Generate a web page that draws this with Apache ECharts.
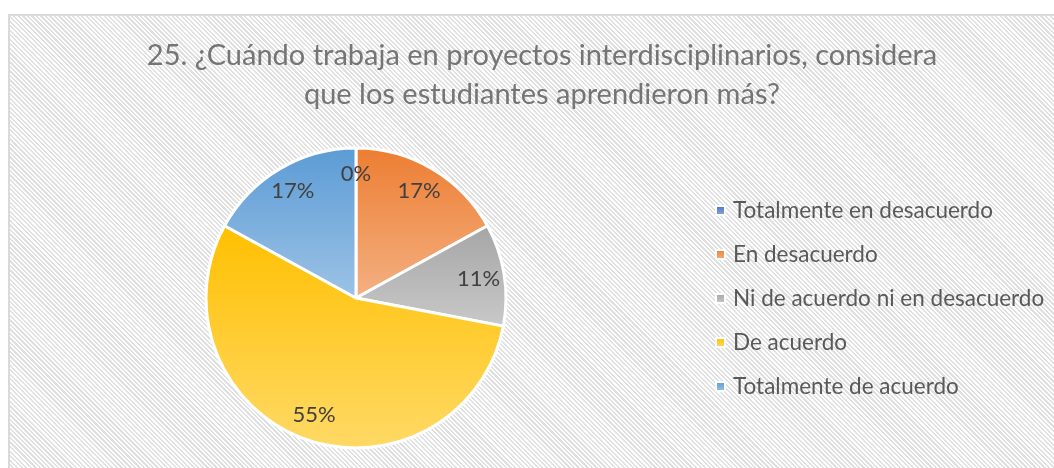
<!DOCTYPE html>
<html>
<head>
<meta charset="utf-8">
<script src="https://cdn.jsdelivr.net/npm/echarts@6/dist/echarts.min.js"></script>
<style>
    html, body { margin: 0; padding: 0; width: 1054px; height: 468px; overflow: hidden; background: #fff; }
    .frame {
        position: absolute; left: 8px; top: 14px; width: 1100px; height: 520px;
        border: 2px solid #d9d9d9;
        background: repeating-linear-gradient(45deg, #ffffff 0px, #ffffff 1.6px, #e0e0e0 1.6px, #e0e0e0 3.2px);
    }
    #chart { position: absolute; left: 10px; top: 16px; width: 1064px; height: 452px; }
</style>
</head>
<body>
<div class="frame"></div>
<div id="chart"></div>
<script>
    // categorias y porcentajes
    var categorias = ['Totalmente en desacuerdo', 'En desacuerdo', 'Ni de acuerdo ni en desacuerdo', 'De acuerdo', 'Totalmente de acuerdo'];
    var porcentajes = [0, 17, 11, 55, 17];
    // colores: [arriba, abajo] del degradado de cada sector
    var colores = [
        ['#4472C4', '#8FAADC'],
        ['#ED7D31', '#F4B183'],
        ['#A5A5A5', '#C9C9C9'],
        ['#FFC000', '#FFD966'],
        ['#5B9BD5', '#9DC3E6']
    ];

    function degradado(c) {
        return new echarts.graphic.LinearGradient(0, 0, 0, 1, [
            { offset: 0, color: c[0] },
            { offset: 1, color: c[1] }
        ]);
    }

    var datos = categorias.map(function (nombre, i) {
        return { name: nombre, value: porcentajes[i], itemStyle: { color: degradado(colores[i]) } };
    });

    var myChart = echarts.init(document.getElementById('chart'));
    var option = {
        animation: false,
        title: {
            text: '25. ¿Cuándo trabaja en proyectos interdisciplinarios, considera\nque los estudiantes aprendieron más?',
            left: 'center',
            top: 20,
            padding: 0,
            textStyle: {
                color: '#757575',
                fontSize: 29,
                fontWeight: 'normal',
                fontFamily: 'Lato',
                lineHeight: 39
            }
        },
        legend: {
            orient: 'vertical',
            left: 700,
            top: 178,
            itemWidth: 9,
            itemHeight: 9,
            itemGap: 21,
            icon: 'rect',
            data: categorias,
            textStyle: { color: '#595959', fontSize: 22.5, fontFamily: 'Lato', padding: [0, 0, 0, 3] }
        },
        series: [
            {
                type: 'pie',
                center: [346, 282],
                radius: [0, 150],
                startAngle: 90,
                clockwise: true,
                silent: true,
                itemStyle: { borderColor: '#fff', borderWidth: 3 },
                label: { show: false },
                labelLine: { show: false },
                data: datos
            },
            {
                // capa transparente para colocar las etiquetas hacia el borde
                type: 'pie',
                center: [346, 282],
                radius: [92, 150],
                startAngle: 90,
                clockwise: true,
                silent: true,
                itemStyle: { color: 'rgba(0,0,0,0)' },
                label: {
                    show: true,
                    position: 'inside',
                    formatter: '{c}%',
                    color: '#404040',
                    fontSize: 22,
                    fontFamily: 'Lato'
                },
                labelLine: { show: false },
                data: categorias.map(function (nombre, i) {
                    return { name: nombre, value: porcentajes[i] };
                })
            }
        ]
    };
    myChart.setOption(option);
</script>
</body>
</html>
